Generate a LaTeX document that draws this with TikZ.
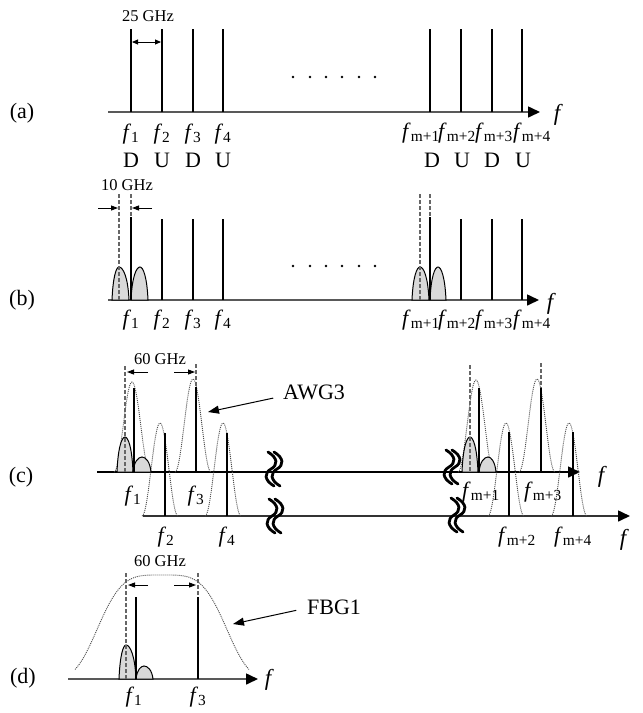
\documentclass[tikz,border=0pt]{standalone}
\usepackage{fontspec}
\setmainfont{Liberation Serif}
\usetikzlibrary{arrows.meta}
\newcommand{\fch}[1]{\textit{f}\textsubscript{#1}}

\begin{document}
\begin{tikzpicture}[
    x=1pt, y=-1pt,
    lbl/.style={inner sep=0pt, font=\fontsize{22}{25}\selectfont},
    ghz/.style={inner sep=0pt, font=\fontsize{16.5}{18}\selectfont},
    fvar/.style={inner sep=0pt, font=\fontsize{23}{25}\selectfont\itshape},
    faxis/.style={draw=#1, line width=1.6pt, -{Triangle[length=12pt, width=11pt, color=black]}},
    faxis/.default=black!65,
    chan/.style={line width=#1},
    chan/.default=2pt,
    guide/.style={draw=black!60, line width=1.2pt, dash pattern=on 4pt off 2pt},
    dimarr/.style={-{Triangle[length=7pt, width=5pt]}, line width=0.9pt},
    dimboth/.style={{Triangle[length=6pt, width=5pt]}-{Triangle[length=6pt, width=5pt]}, line width=0.9pt},
    pointer/.style={-{Triangle[length=11pt, width=8pt]}, line width=1pt},
    filt/.style={draw=black!70, line width=0.9pt, dash pattern=on 1pt off 1pt},
    bump/.style={fill=black!15, draw=black, line width=1pt},
    brk/.style={line width=2.8pt, line cap=round}
]
\useasboundingbox (0,0) rectangle (643,713);

% (a) channel grid
\node[lbl] (la) at (22,113) {(a)};
\draw[faxis] (108,112) -- (540,112);
\foreach \x in {131,162,193,223,430,461,492,522}
    \draw[chan] (\x,29) -- (\x,112);
\foreach \x in {293,310,326,342,359,375}
    \fill (\x,77) circle (1.4pt);
\foreach \x/\n in {131/1,162/2,193/3,223/4}
    \node[lbl] (fa\n) at (\x,134) {\fch{\n}};
\foreach \x/\n in {421/1,457/2,494/3,532/4}
    \node[lbl] (fam\n) at (\x,133) {\fch{m+\n}};
\foreach \x/\s [count=\i] in {131/D,162/U,193/D,223/U,432/D,462/U,492/D,523/U}
    \node[lbl] (du\i) at (\x,160) {\s};
\node[fvar] (fxa) at (557,115) {f};
\node[ghz] (g25) at (148,16) {25 GHz};
\draw[dimboth] (132,42) -- (161,42);

% (b) modulated carriers
\node[lbl] (lb) at (22,300) {(b)};
\draw[faxis] (108,300) -- (539,300);
\foreach \l/\c/\r/\bs/\pk in {112/119/129/300/267, 131/140/148/300/267, 412/420/429/300/267, 430/438/446/300/267}
    \draw[bump] (\l,\bs) .. controls (\l+1,{\pk+0.3*(\bs-\pk)}) and ({\c-0.4*(\c-\l)},\pk) .. (\c,\pk)
        .. controls ({\c+0.4*(\r-\c)},\pk) and (\r-1,{\pk+0.3*(\bs-\pk)}) .. (\r,\bs) -- cycle;
\foreach \x/\t in {119/300, 131/217, 420/300, 430/217}
    \draw[guide] (\x,194) -- (\x,\t);
\foreach \x/\t in {131/217,162/219,193/219,223/219,430/217,461/219,492/219,522/219}
    \draw[chan] (\x,\t) -- (\x,300);
\foreach \x in {293,310,326,342,359,375}
    \fill (\x,266) circle (1.4pt);
\foreach \x/\n in {131/1,162/2,193/3,223/4}
    \node[lbl] (fb\n) at (\x,320) {\fch{\n}};
\foreach \x/\n in {421/1,457/2,494/3,532/4}
    \node[lbl] (fbm\n) at (\x,320) {\fch{m+\n}};
\node[fvar] (fxb) at (550,304) {f};
\node[ghz] (g10) at (127,185) {10 GHz};
\draw[dimarr] (98,208) -- (118,208);
\draw[dimarr] (152,208) -- (132,208);

% (c) after AWG3
\node[lbl] (lc) at (21,477) {(c)};
\draw[faxis=black] (97,472) -- (580,472);
\draw[faxis=black!80] (143,516) -- (630,516);
\foreach \cx/\pk/\bs in {132/382/472, 193/379/472, 160/423/516, 223/423/516, 476/380/472, 537/379/472, 506/423/516, 569/423/516}
    \draw[filt] plot[domain=-18:18, samples=41] ({\cx+\x}, {\bs-(\bs-\pk)*cos(5*\x)*cos(5*\x)});
\foreach \l/\c/\r/\bs/\pk in {117/125/133/472/437, 133/142/151/472/457, 462/470/478/472/437, 479/488/496/472/457}
    \draw[bump] (\l,\bs) .. controls (\l+1,{\pk+0.3*(\bs-\pk)}) and ({\c-0.4*(\c-\l)},\pk) .. (\c,\pk)
        .. controls ({\c+0.4*(\r-\c)},\pk) and (\r-1,{\pk+0.3*(\bs-\pk)}) .. (\r,\bs) -- cycle;
\foreach \x/\f/\t in {125/366/472, 196/364/387, 470/365/472, 541/363/388}
    \draw[guide] (\x,\f) -- (\x,\t);
\foreach \x/\f/\t in {134/388/472, 196/387/472, 165/433/516, 227/433/516, 479/388/472, 541/388/472, 509/432/516, 573/432/516}
    \draw[chan=2.6pt] (\x,\f) -- (\x,\t);
\foreach \bx/\by in {274/469, 275/516, 452/467, 457/515}
    \foreach \o in {-3,3}
        \draw[brk] (\bx+\o-3,\by-17) .. controls (\bx+\o+7,\by-11) and (\bx+\o+7,\by-4) .. (\bx+\o,\by)
            .. controls (\bx+\o-7,\by+4) and (\bx+\o-7,\by+11) .. (\bx+\o+3,\by+17);
\node[lbl] (fc1) at (133,496) {\fch{1}};
\node[lbl] (fc3) at (196,496) {\fch{3}};
\node[lbl] (fc2) at (166,537) {\fch{2}};
\node[lbl] (fc4) at (227,537) {\fch{4}};
\node[lbl] (fcm1) at (481,492) {\fch{m+1}};
\node[lbl] (fcm3) at (543,492) {\fch{m+3}};
\node[lbl] (fcm2) at (517,537) {\fch{m+2}};
\node[lbl] (fcm4) at (573,537) {\fch{m+4}};
\node[fvar] (fxc) at (601,477) {f};
\node[fvar] (fxc2) at (623,540) {f};
\node[ghz] (g60c) at (160,359) {60 GHz};
\draw[dimarr] (148,372) -- (127,372);
\draw[dimarr] (174,372) -- (195,372);
\node[lbl, anchor=west] (awg) at (283,392) {AWG3};
\coordinate (awgtip) at (208,412);
\draw[pointer, shorten <=10pt] ([yshift=-4pt]awg.west) -- (awgtip);

% (d) after FBG1
\node[lbl] (ld) at (23,678) {(d)};
\draw[faxis] (68,679) -- (258,679);
\draw[filt] plot[domain=75:249, samples=90] (\x, {679-104*exp(-(abs((\x-162)/70))^4)});
\foreach \l/\c/\r/\bs/\pk in {119/126/136/679/645, 136/144/153/679/666}
    \draw[bump] (\l,\bs) .. controls (\l+1,{\pk+0.3*(\bs-\pk)}) and ({\c-0.4*(\c-\l)},\pk) .. (\c,\pk)
        .. controls ({\c+0.4*(\r-\c)},\pk) and (\r-1,{\pk+0.3*(\bs-\pk)}) .. (\r,\bs) -- cycle;
\draw[guide] (126,573) -- (126,679);
\draw[guide] (198,573) -- (198,597);
\draw[chan] (136,597) -- (136,679);
\draw[chan] (198,597) -- (198,679);
\node[lbl] (fd1) at (134,697) {\fch{1}};
\node[lbl] (fd3) at (198,697) {\fch{3}};
\node[fvar] (fxd) at (268,680) {f};
\node[ghz] (g60d) at (160,561) {60 GHz};
\draw[dimarr] (148,585) -- (128,585);
\draw[dimarr] (174,585) -- (196,585);
\node[lbl, anchor=west] (fbg) at (307,607) {FBG1};
\coordinate (fbgtip) at (233,624);
\draw[pointer, shorten <=11pt] ([yshift=-1pt]fbg.west) -- (fbgtip);

\end{tikzpicture}
\end{document}
